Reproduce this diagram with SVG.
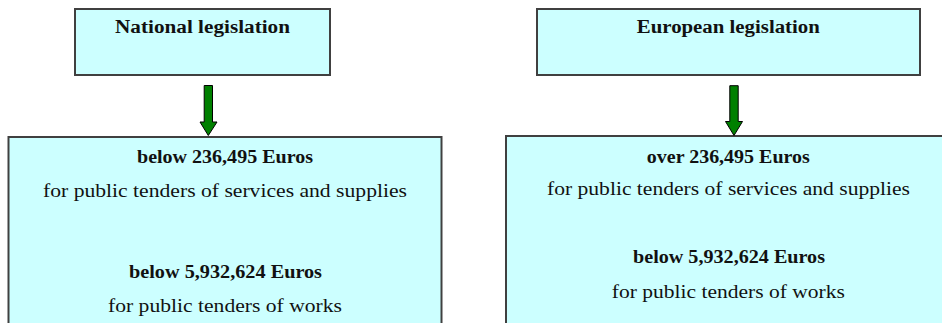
<svg xmlns="http://www.w3.org/2000/svg" width="942" height="323" viewBox="0 0 942 323">
<style>
.box{fill:#ccffff;stroke:#404040;stroke-width:2}
.arrow{fill:#008000;stroke:#000;stroke-width:1;stroke-linejoin:miter}
text{font-size:18.5px;fill:#111;text-anchor:middle}
.b{font-weight:bold}
</style>
<rect width="942" height="323" fill="#fff"/>
<g font-family="Liberation Serif, serif">
<g id="national">
<rect class="box" x="75" y="9" width="255" height="66"/>
<text class="b" x="202.5" y="33" textLength="175" lengthAdjust="spacingAndGlyphs">National legislation</text>
</g>
<g id="european">
<rect class="box" x="537" y="9" width="383" height="66"/>
<text class="b" x="728.3" y="33" textLength="183" lengthAdjust="spacingAndGlyphs">European legislation</text>
</g>
<g id="national-thresholds">
<rect class="box" x="8.5" y="137" width="433" height="200"/>
<text class="b" x="225" y="162.7" textLength="176" lengthAdjust="spacingAndGlyphs">below 236,495 Euros</text>
<text x="225" y="196.7" textLength="364" lengthAdjust="spacingAndGlyphs">for public tenders of services and supplies</text>
<text class="b" x="225.5" y="278.3" textLength="193" lengthAdjust="spacingAndGlyphs">below 5,932,624 Euros</text>
<text x="225" y="312.3" textLength="234" lengthAdjust="spacingAndGlyphs">for public tenders of works</text>
</g>
<g id="european-thresholds">
<rect class="box" x="506" y="136" width="444" height="200"/>
<text class="b" x="728.3" y="162.7" textLength="163" lengthAdjust="spacingAndGlyphs">over 236,495 Euros</text>
<text x="728.5" y="195" textLength="363" lengthAdjust="spacingAndGlyphs">for public tenders of services and supplies</text>
<text class="b" x="729" y="263" textLength="192" lengthAdjust="spacingAndGlyphs">below 5,932,624 Euros</text>
<text x="728.3" y="298" textLength="233" lengthAdjust="spacingAndGlyphs">for public tenders of works</text>
</g>
</g>
<g id="connectors">
<path class="arrow" d="M204.2,85.5 H212.5 V122 H217 L208.3,135.5 L200,122 H204.2 Z"/>
<path class="arrow" d="M729.8,85.7 H738.2 V121.5 H742.5 L734,135.5 L725.5,121.5 H729.8 Z"/>
</g>
</svg>
